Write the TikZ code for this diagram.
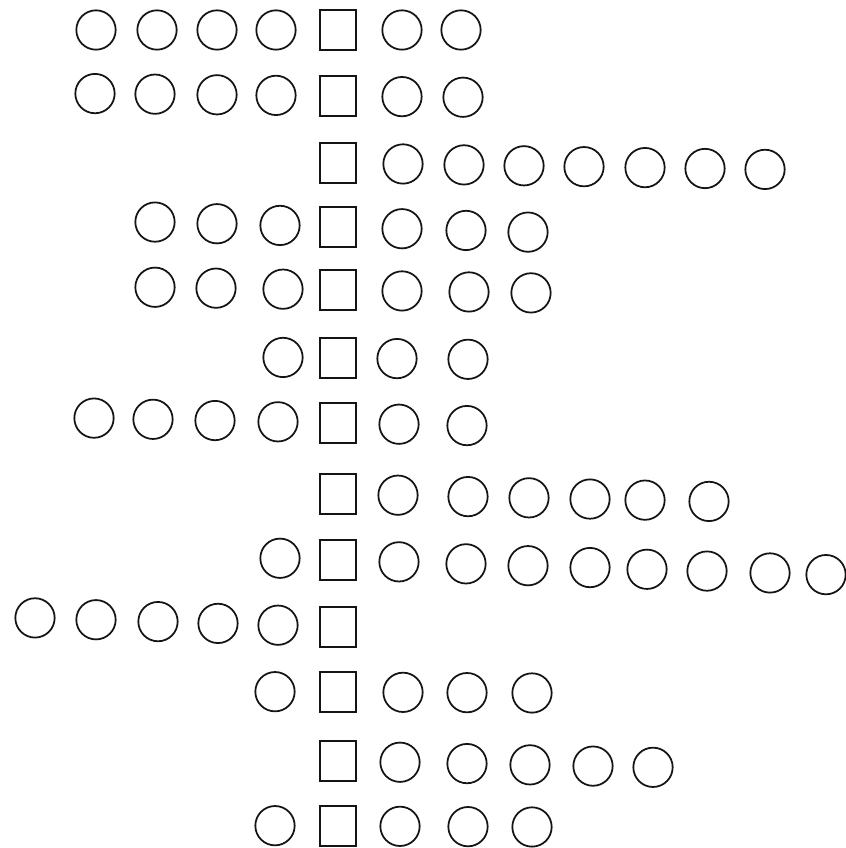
\documentclass[tikz,border=0pt]{standalone}
\usepackage{tikz}
\usetikzlibrary{positioning}
\definecolor{inkgray}{RGB}{20, 20, 20}

\begin{document}
\begin{tikzpicture}[x=0.03cm, y=-0.03cm,
    ring/.style={circle, draw=inkgray, line width=1.5pt, minimum size=1.18cm, inner sep=0pt},
    cell/.style={rectangle, draw=inkgray, line width=1.5pt, minimum width=1.1cm, minimum height=1.2cm, inner sep=0pt}]
    \useasboundingbox (0,0) rectangle (845,848);

    % Rows: number / height / tilt / circle columns
    \foreach \r/\y/\s/\xs in {
        1/30/0/{96,157,217,276,402,461},
        2/96/0.01/{95,155,217,276,402,463},
        3/163/0.015/{403,464,524,584,645,705,765},
        4/227/0.027/{155,217,280,402,466,528},
        5/290/0.015/{155,216,283,402,469,531},
        6/358/0.01/{283,397,468},
        7/423/0.02/{94,153,215,278,399,467},
        8/494/0.02/{398,468,529,590,645,709},
        9/560/0.03/{280,399,466,528,590,647,707,770,826},
        10/627/0.03/{35,96,158,218,278},
        11/692/0.005/{275,403,467,532},
        12/761/0.02/{400,467,530,593,653},
        13/826/0.005/{275,400,468,532}} {
        % square in the middle column
        \node[cell] (sq\r) at (338, \y) {};
        % circles of the row
        \foreach \x [count=\i] in \xs {
            \node[ring] (c\r-\i) at (\x, {\y+(\x-338)*\s}) {};
        }
    }
\end{tikzpicture}
\end{document}
